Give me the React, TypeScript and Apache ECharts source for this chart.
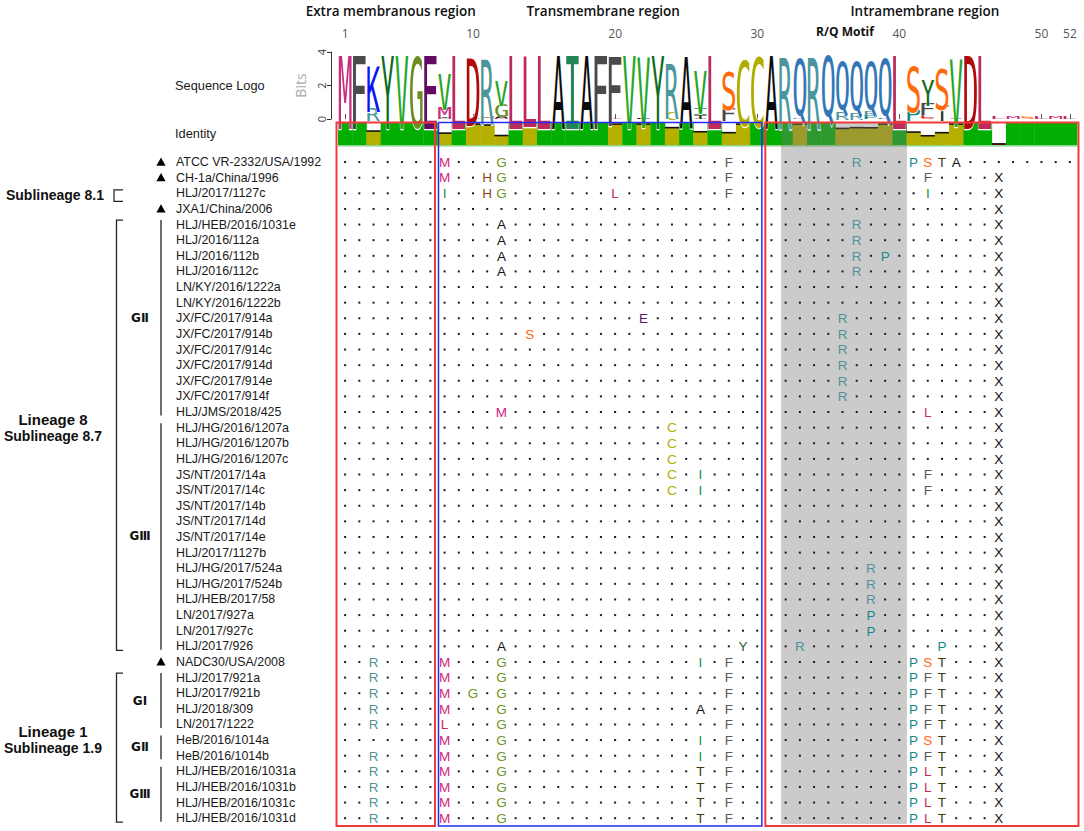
import React, { useEffect, useRef } from 'react';
import * as echarts from 'echarts';

// ---------------- DATA ----------------
const positions: string[] = [
  '1','2','3','4','5','6','7','8','9','10','11','12','13','14','15','16','17','18','19','20',
  '21','22','23','24','25','26','27','28','29','30','31','32','33','34','35','36','37','38','39','40',
  '41','42','43','44','45','46','47','48','49','50','51','52'
];
const rulerTicks: string[] = ['1', '10', '20', '30', '40', '50', '52'];

// sequence logo: per column, stack from bottom to top [residue, bits]
const logoStacks: [string, number][][] = [
  [['M', 4.18]],
  [['F', 4.18]],
  [['R', 0.78], ['K', 2.57]],
  [['Y', 4.18]],
  [['V', 4.18]],
  [['G', 4.18]],
  [['E', 4.18]],
  [['L', 0.05], ['I', 0.05], ['M', 0.7], ['V', 2.05]],
  [['L', 4.18]],
  [['G', 0.1], ['D', 3.88]],
  [['H', 0.15], ['R', 3.78]],
  [['M', 0.05], ['A', 0.16], ['G', 0.8], ['V', 1.4]],
  [['L', 4.18]],
  [['S', 0.08], ['L', 4.02]],
  [['L', 4.18]],
  [['A', 4.18]],
  [['I', 4.18]],
  [['A', 4.18]],
  [['F', 4.18]],
  [['L', 0.08], ['F', 4.02]],
  [['V', 4.18]],
  [['E', 0.08], ['V', 4.02]],
  [['Y', 4.18]],
  [['C', 0.45], ['R', 3.19]],
  [['A', 4.12]],
  [['A', 0.05], ['T', 0.22], ['I', 0.36], ['V', 2.48]],
  [['L', 4.18]],
  [['F', 0.78], ['S', 2.24]],
  [['Y', 0.08], ['C', 3.94]],
  [['C', 4.18]],
  [['A', 4.18]],
  [['R', 4.18]],
  [['R', 0.08], ['Q', 3.94]],
  [['R', 4.18]],
  [['Q', 4.18]],
  [['R', 0.45], ['Q', 3.3]],
  [['R', 0.42], ['Q', 3.35]],
  [['P', 0.2], ['R', 0.3], ['Q', 3.3]],
  [['P', 0.08], ['Q', 3.94]],
  [['L', 4.18]],
  [['P', 0.72], ['S', 2.72]],
  [['S', 0.1], ['L', 0.22], ['F', 0.66], ['Y', 1.47]],
  [['T', 0.88], ['S', 2.43]],
  [['A', 0.08], ['V', 3.88]],
  [['D', 4.18]],
  [['L', 4.18]],
  [['L', 0.12]],
  [['M', 0.12]],
  [['S', 0.12]],
  [['L', 0.12]],
  [['M', 0.12]],
  [['L', 0.12]]
];

// identity per column (fraction)
const identity: number[] = [
  1, 1, 0.635, 1, 1, 1, 1, 0.54, 1, 0.953,
  0.909, 0.43, 1, 0.953, 1, 1, 1, 1, 1, 0.953,
  1, 0.953, 1, 0.79, 1, 0.602, 1, 0.56, 0.953, 1,
  1, 1, 0.953, 1, 1, 0.754, 0.79, 0.783, 0.953, 1,
  0.588, 0.42, 0.56, 0.953, 1, 1, 0.05, 1, 1, 1,
  1, 1
];

const strainNames: string[] = [
  'ATCC VR-2332/USA/1992', 'CH-1a/China/1996', 'HLJ/2017/1127c', 'JXA1/China/2006',
  'HLJ/HEB/2016/1031e', 'HLJ/2016/112a', 'HLJ/2016/112b', 'HLJ/2016/112c',
  'LN/KY/2016/1222a', 'LN/KY/2016/1222b', 'JX/FC/2017/914a', 'JX/FC/2017/914b',
  'JX/FC/2017/914c', 'JX/FC/2017/914d', 'JX/FC/2017/914e', 'JX/FC/2017/914f',
  'HLJ/JMS/2018/425', 'HLJ/HG/2016/1207a', 'HLJ/HG/2016/1207b', 'HLJ/HG/2016/1207c',
  'JS/NT/2017/14a', 'JS/NT/2017/14c', 'JS/NT/2017/14b', 'JS/NT/2017/14d',
  'JS/NT/2017/14e', 'HLJ/2017/1127b', 'HLJ/HG/2017/524a', 'HLJ/HG/2017/524b',
  'HLJ/HEB/2017/58', 'LN/2017/927a', 'LN/2017/927c', 'HLJ/2017/926',
  'NADC30/USA/2008', 'HLJ/2017/921a', 'HLJ/2017/921b', 'HLJ/2018/309',
  'LN/2017/1222', 'HeB/2016/1014a', 'HeB/2016/1014b', 'HLJ/HEB/2016/1031a',
  'HLJ/HEB/2016/1031b', 'HLJ/HEB/2016/1031c', 'HLJ/HEB/2016/1031d'
];

const referenceStrain: boolean[] = [
  true, true, false, true, false, false, false, false, false, false,
  false, false, false, false, false, false, false, false, false, false,
  false, false, false, false, false, false, false, false, false, false,
  false, false, true, false, false, false, false, false, false, false,
  false, false, false
];

// substitutions relative to consensus: "<column><residue>"
const substitutions: string[] = [
  '8M 12G 28F 37R 41P 42S 43T 44A',
  '8M 11H 12G 28F 42F 47X',
  '8I 11H 12G 20L 28F 42I 47X',
  '47X',
  '12A 37R 47X',
  '12A 37R 47X',
  '12A 37R 39P 47X',
  '12A 37R 47X',
  '47X',
  '47X',
  '22E 36R 47X',
  '14S 36R 47X',
  '36R 47X',
  '36R 47X',
  '36R 47X',
  '36R 47X',
  '12M 42L 47X',
  '24C 47X',
  '24C 47X',
  '24C 47X',
  '24C 26I 42F 47X',
  '24C 26I 42F 47X',
  '47X',
  '47X',
  '47X',
  '47X',
  '38R 47X',
  '38R 47X',
  '38R 47X',
  '38P 47X',
  '38P 47X',
  '12A 29Y 33R 43P 47X',
  '3R 8M 12G 26I 28F 41P 42S 43T 47X',
  '3R 8M 12G 28F 41P 42F 43T 47X',
  '3R 8M 10G 12G 28F 41P 42F 43T 47X',
  '3R 8M 12G 26A 28F 41P 42F 43T 47X',
  '3R 8L 12G 28F 41P 42F 43T 47X',
  '8M 12G 26I 28F 41P 42S 43T 47X',
  '3R 8M 12G 26I 28F 41P 42F 43T 47X',
  '3R 8M 12G 26T 28F 41P 42L 43T 47X',
  '3R 8M 12G 26T 28F 41P 42L 43T 47X',
  '3R 8M 12G 26T 28F 41P 42L 43T 47X',
  '3R 8M 12G 26T 28F 41P 42L 43T 47X'
];

const alignedLength: number[] = [
  52, 47, 47, 47, 47, 47, 47, 47, 47, 47, 47, 47, 47, 47, 47, 47, 47, 47, 47, 47, 47, 47,
  47, 47, 47, 47, 47, 47, 47, 47, 47, 47, 47, 47, 47, 47, 47, 47, 47, 47, 47, 47, 47
];

const regionNames: string[] = ['Extra membranous region', 'Transmembrane region', 'Intramembrane region'];
const regionStart: number[] = [1, 8, 31];
const regionEnd: number[] = [7, 30, 52];
const regionColor: string[] = ['#f23a3a', '#2a2af5', '#f23a3a'];

const motifLabel = 'R/Q Motif';
const motifStart = 32;
const motifEnd = 40;

const genotypeLabels: string[] = ['GⅡ', 'GⅢ', 'GⅠ', 'GⅡ', 'GⅢ'];
const genotypeFrom: number[] = [5, 18, 34, 38, 40];
const genotypeTo: number[] = [17, 32, 37, 39, 43];

const lineageTitles: string[] = ['Lineage 8', 'Lineage 1'];
const lineageSubtitles: string[] = ['Sublineage 8.7', 'Sublineage 1.9'];
const lineageFrom: number[] = [5, 34];
const lineageTo: number[] = [32, 43];

const sublineage81Label = 'Sublineage 8.1';
const sublineage81Row = 3;

// ---------------- STYLE ----------------
const alignColors: Record<string, string> = {
  M: '#d1237f', G: '#6f961f', H: '#8b4a14', I: '#1a8a45', L: '#c52a5e', A: '#111111',
  F: '#595959', R: '#4f9299', P: '#15898a', S: '#ff6a10', T: '#3a3a12', E: '#5a1a5a',
  C: '#b0ae00', Y: '#1d6420', X: '#111111'
};
const logoColors: Record<string, string> = {
  M: '#c92d7e', F: '#4a4a4a', K: '#0a14f0', R: '#4b969c', Y: '#0e6a1e', V: '#26a626',
  G: '#6b8e23', E: '#630a63', L: '#bf2a5c', D: '#b00a0a', A: '#0a0a0a', I: '#23855a',
  S: '#ff6a0a', C: '#b0ac00', Q: '#3276b8', P: '#138b8b', T: '#33331a', H: '#8b4513'
};

const LOGO_FONT = '100px "DejaVu Sans Mono"';
const glyphCache: Record<string, { l: number; r: number; a: number; d: number }> = {};
function glyph(ch: string) {
  if (!glyphCache[ch]) {
    const ctx = document.createElement('canvas').getContext('2d') as CanvasRenderingContext2D;
    ctx.font = LOGO_FONT;
    ctx.textAlign = 'left';
    ctx.textBaseline = 'middle';
    const m = ctx.measureText(ch);
    glyphCache[ch] = {
      l: m.actualBoundingBoxLeft,
      r: m.actualBoundingBoxRight,
      a: m.actualBoundingBoxAscent,
      d: m.actualBoundingBoxDescent
    };
  }
  return glyphCache[ch];
}

function parseSubs(s: string): Record<number, string> {
  const out: Record<number, string> = {};
  s.split(' ').filter(Boolean).forEach((tok) => {
    const col = parseInt(tok, 10);
    out[col] = tok.replace(/^\d+/, '');
  });
  return out;
}

function txt(text: string, x: number, y: number, font: string, fill: string, align = 'left', vAlign = 'middle') {
  return {
    type: 'text',
    style: { text, x, y, font, fill, align, verticalAlign: vAlign, textAlign: align, textVerticalAlign: vAlign }
  };
}

const ROW_FONT = '12.4px "Liberation Sans"';
const AA_FONT = '13.5px "Liberation Sans"';
const LABEL_FONT = '12.8px "Liberation Sans"';

export default function App() {
  const ref = useRef<HTMLDivElement>(null);
  useEffect(() => {
    if (!ref.current) return;
    const chart = echarts.init(ref.current, null, { renderer: 'svg' });

    const tickFilter = (_i: number, v: string) => rulerTicks.indexOf(v) >= 0;

    const option: any = {
      animation: false,
      backgroundColor: '#ffffff',
      grid: [
        { left: 338, width: 739, top: 52, height: 67 },
        { left: 338, width: 739, top: 123, height: 22 },
        { left: 338, width: 739, top: 123, height: 703 }
      ],
      xAxis: [
        {
          type: 'category', gridIndex: 0, data: positions, position: 'top', offset: 7,
          axisLine: { show: false },
          axisTick: { show: true, interval: tickFilter, alignWithLabel: true, length: 5, lineStyle: { color: '#555' } },
          axisLabel: { interval: tickFilter, color: '#555', fontSize: 12, margin: 6, fontFamily: 'Open Sans' },
          splitLine: { show: false }
        },
        { type: 'category', gridIndex: 1, data: positions, show: false },
        { type: 'category', gridIndex: 2, data: positions, show: false }
      ],
      yAxis: [
        {
          type: 'value', gridIndex: 0, min: 0, max: 4, interval: 2, offset: 7,
          name: 'Bits', nameLocation: 'middle', nameGap: 24, nameRotate: 90,
          nameTextStyle: { color: '#aaaaaa', fontSize: 14, fontFamily: 'Open Sans' },
          axisLine: { show: true, lineStyle: { color: '#333' } },
          axisTick: { show: true, length: 4, lineStyle: { color: '#333' } },
          axisLabel: { rotate: 90, color: '#444', fontSize: 11, margin: 4, fontFamily: 'Open Sans' },
          splitLine: { show: false }
        },
        { type: 'value', gridIndex: 1, min: 0, max: 1, show: false },
        { type: 'value', gridIndex: 2, min: -1.5, max: 43.5, inverse: true, show: false }
      ],
      graphic: [
        txt('Sequence Logo', 175, 85, LABEL_FONT, '#1a1a1a'),
        txt('Identity', 175, 133, LABEL_FONT, '#1a1a1a')
      ],
      series: [
        // sequence logo
        {
          type: 'custom', xAxisIndex: 0, yAxisIndex: 0, clip: false, silent: true, z: 3,
          data: positions.map((_p, i) => [i, 4]),
          renderItem: (params: any, api: any) => {
            const idx = params.dataIndex;
            const cx = api.coord([idx, 0])[0];
            const bw = api.size([1, 0])[0] * 0.9;
            let cum = 0;
            const children: any[] = [];
            logoStacks[idx].forEach(([aa, bits]) => {
              const yB0 = api.coord([idx, cum])[1];
              const yT0 = api.coord([idx, cum + bits])[1];
              cum += bits;
              const h0 = yB0 - yT0;
              if (h0 < 0.4) return;
              const g = glyph(aa);
              const sx = bw / (g.l + g.r);
              const syRaw = h0 / (g.a + g.d);
              const half = Math.min(1.3 / syRaw, 0.35 / sx);
              const ey = h0 > 10 ? half * syRaw : 0;
              const yT = yT0 - ey;
              const yB = yB0 + ey;
              const sy = (yB - yT) / (g.a + g.d);
              const style: any = {
                text: aa, x: 0, y: 0, font: LOGO_FONT, fill: logoColors[aa] || '#c0306a',
                align: 'left', verticalAlign: 'middle', textAlign: 'left', textVerticalAlign: 'middle'
              };
              if (ey > 0) {
                style.stroke = '#ffffff';
                style.lineWidth = half * 2;
              }
              children.push({
                type: 'text',
                x: cx - bw / 2 + g.l * sx,
                y: yT + g.a * sy,
                scaleX: sx,
                scaleY: sy,
                style
              });
            });
            return { type: 'group', children };
          }
        },
        // identity bar
        {
          type: 'custom', xAxisIndex: 1, yAxisIndex: 1, clip: false, silent: true, z: 1,
          data: identity.map((v, i) => [i, v]),
          renderItem: (params: any, api: any) => {
            const i = params.dataIndex;
            const v = api.value(1);
            const cx = api.coord([i, 0])[0];
            const yB = api.coord([i, 0])[1];
            const yT = api.coord([i, 1])[1];
            const w = api.size([1, 0])[0];
            const x0 = cx - w / 2;
            const H = yB - yT;
            const children: any[] = [];
            if (v >= 0.999) {
              children.push({ type: 'rect', shape: { x: x0, y: yT, width: w + 0.4, height: H }, style: { fill: '#02ae02' } });
            } else {
              const h = v * H;
              children.push({ type: 'rect', shape: { x: x0, y: yB - h, width: w + 0.4, height: h }, style: { fill: v >= 0.3 ? '#b5b000' : '#e01010' } });
              children.push({ type: 'line', shape: { x1: x0, y1: yB - h, x2: x0 + w, y2: yB - h }, style: { stroke: '#111', lineWidth: 1.6 } });
            }
            children.push({ type: 'line', shape: { x1: x0, y1: yB + 0.8, x2: x0 + w + 0.4, y2: yB + 0.8 }, style: { stroke: '#8fd88f', lineWidth: 1.6 } });
            return { type: 'group', children };
          }
        },
        // R/Q motif shading
        {
          type: 'custom', xAxisIndex: 2, yAxisIndex: 2, clip: false, silent: true, z: 2,
          data: [[motifStart - 1, 0]],
          renderItem: (params: any, api: any) => {
            const w = api.size([1, 0])[0];
            const xL = api.coord([motifStart - 1, 0])[0] - w / 2 + 2.5;
            const xR = api.coord([motifEnd - 1, 0])[0] + w / 2 + 0.5;
            const cs = params.coordSys;
            return {
              type: 'group',
              children: [
                { type: 'rect', shape: { x: xL, y: cs.y, width: xR - xL, height: cs.height - 2 }, style: { fill: 'rgba(118,118,118,0.38)' } },
                txt(motifLabel, (xL + xR) / 2 + 1, 31.5, 'bold 12px "Open Sans"', '#111', 'center')
              ]
            };
          }
        },
        // alignment rows
        {
          type: 'custom', xAxisIndex: 2, yAxisIndex: 2, clip: false, silent: true, z: 3,
          data: strainNames.map((_n, i) => [0, i + 1]),
          renderItem: (params: any, api: any) => {
            const i = params.dataIndex;
            const rowNum = i + 1;
            const y = api.coord([0, rowNum])[1];
            const children: any[] = [];
            children.push(txt(strainNames[i], 176, y, ROW_FONT, '#1a1a1a'));
            if (referenceStrain[i]) {
              children.push({ type: 'polygon', shape: { points: [[161, y - 4.6], [165.6, y + 3.6], [156.4, y + 3.6]] }, style: { fill: '#000' } });
            }
            const subs = parseSubs(substitutions[i]);
            for (let c = 1; c <= alignedLength[i]; c++) {
              const x = api.coord([c - 1, rowNum])[0];
              const aa = subs[c];
              if (aa) {
                children.push(txt(aa, x, y + 0.3, AA_FONT, alignColors[aa] || '#111', 'center'));
              } else {
                children.push({ type: 'rect', shape: { x: x - 1, y: y - 1, width: 2, height: 2 }, style: { fill: '#1a1a1a' } });
              }
            }
            return { type: 'group', children };
          }
        },
        // region boxes + titles
        {
          type: 'custom', xAxisIndex: 2, yAxisIndex: 2, clip: false, silent: true, z: 4,
          data: regionNames.map((_n, i) => [regionStart[i] - 1, 0]),
          renderItem: (params: any, api: any) => {
            const i = params.dataIndex;
            const w = api.size([1, 0])[0];
            const last = regionNames.length - 1;
            const xL = api.coord([regionStart[i] - 1, 0])[0] - w / 2 + (i === 0 ? -1.5 : 1);
            const xR = api.coord([regionEnd[i] - 1, 0])[0] + w / 2 + (i === last ? 1.5 : -2.5);
            const cs = params.coordSys;
            return {
              type: 'group',
              children: [
                {
                  type: 'rect',
                  shape: { x: xL, y: cs.y - 0.5, width: xR - xL, height: cs.height + 0.5 },
                  style: { fill: 'none', stroke: regionColor[i], lineWidth: i === 1 ? 1.5 : 2 }
                },
                txt(regionNames[i], (xL + xR) / 2 + (i === 0 ? 5 : 3), 11, '600 13.5px "Open Sans"', '#111', 'center')
              ]
            };
          }
        },
        // genotype brackets
        {
          type: 'custom', xAxisIndex: 2, yAxisIndex: 2, clip: false, silent: true, z: 3,
          data: genotypeLabels.map((_l, i) => [0, genotypeFrom[i]]),
          renderItem: (params: any, api: any) => {
            const i = params.dataIndex;
            const yT = api.coord([0, genotypeFrom[i]])[1] - 4.5;
            const yB = api.coord([0, genotypeTo[i]])[1] + 3.5;
            return {
              type: 'group',
              children: [
                { type: 'line', shape: { x1: 161, y1: yT, x2: 161, y2: yB }, style: { stroke: '#222', lineWidth: 1.3 } },
                txt(genotypeLabels[i], 140, (yT + yB) / 2, 'bold 12px "DejaVu Sans"', '#111', 'center')
              ]
            };
          }
        },
        // lineage brackets
        {
          type: 'custom', xAxisIndex: 2, yAxisIndex: 2, clip: false, silent: true, z: 3,
          data: lineageTitles.map((_l, i) => [0, lineageFrom[i]]),
          renderItem: (params: any, api: any) => {
            const i = params.dataIndex;
            const yT = api.coord([0, lineageFrom[i]])[1] - 4.5;
            const yB = api.coord([0, lineageTo[i]])[1] + 4;
            const mid = (yT + yB) / 2;
            return {
              type: 'group',
              children: [
                { type: 'polyline', shape: { points: [[123, yT], [116.5, yT], [116.5, yB], [123, yB]] }, style: { stroke: '#222', lineWidth: 1.3, fill: 'none' } },
                txt(lineageTitles[i], 53, mid - 16, 'bold 15px "Liberation Sans"', '#111', 'center'),
                txt(lineageSubtitles[i], 53, mid + 0.8, 'bold 14px "Liberation Sans"', '#111', 'center')
              ]
            };
          }
        },
        // sublineage 8.1 marker
        {
          type: 'custom', xAxisIndex: 2, yAxisIndex: 2, clip: false, silent: true, z: 3,
          data: [[0, sublineage81Row]],
          renderItem: (_params: any, api: any) => {
            const y = api.coord([0, sublineage81Row])[1];
            return {
              type: 'group',
              children: [
                { type: 'polyline', shape: { points: [[123, y - 3.5], [114, y - 3.5], [114, y + 8], [123, y + 8]] }, style: { stroke: '#222', lineWidth: 1.2, fill: 'none' } },
                txt(sublineage81Label, 55, y + 2, 'bold 14px "Liberation Sans"', '#111', 'center')
              ]
            };
          }
        }
      ]
    };

    chart.setOption(option);
    return () => chart.dispose();
  }, []);

  return (
    <div
      ref={ref}
      style={{ position: 'absolute', left: 0, top: 0, width: 1084, height: 831, background: '#fff' }}
    />
  );
}
